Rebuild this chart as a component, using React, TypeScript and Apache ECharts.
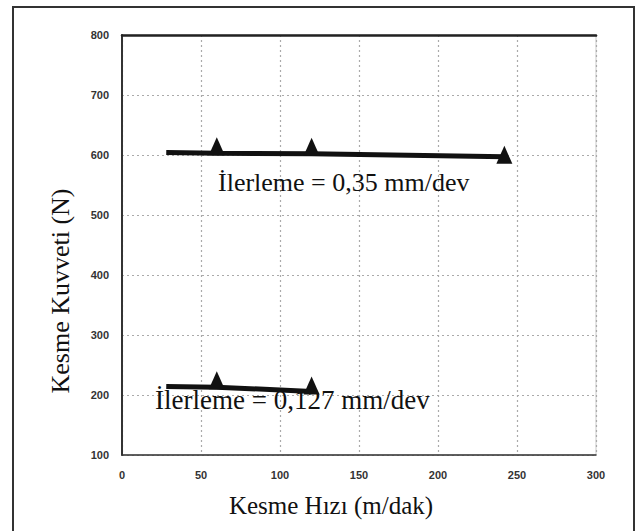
import React, { useEffect, useRef } from "react";
import * as echarts from "echarts";

const xTicks = [0, 50, 100, 150, 200, 250, 300];
const yTicks = [100, 200, 300, 400, 500, 600, 700, 800];

// İlerleme = 0,35 mm/dev
const feed035X = [28, 60, 120, 242];
const feed035Y = [604, 603, 602, 597];
// İlerleme = 0,127 mm/dev
const feed0127X = [28, 60, 120];
const feed0127Y = [214, 213, 206];

const label035 = "İlerleme = 0,35 mm/dev";
const label0127 = "İlerleme = 0,127 mm/dev";
const xTitle = "Kesme Hızı (m/dak)";
const yTitle = "Kesme Kuvveti (N)";

const SERIF = "'Liberation Serif', 'DejaVu Serif', serif";
const SANS = "'Liberation Sans', Arial, sans-serif";

function buildData(xs: number[], ys: number[], offsets: number[]) {
  return xs.map((x, i) => {
    if (i === 0) return { value: [x, ys[i]], symbol: "none" };
    return { value: [x, ys[i]], symbolOffset: [0, offsets[i]] };
  });
}

export default function App() {
  const ref = useRef<HTMLDivElement>(null);
  useEffect(() => {
    if (!ref.current) return;
    const chart = echarts.init(ref.current, null, { renderer: "svg" });
    const lineStyle = { color: "#111", width: 5 };
    chart.setOption({
      animation: false,
      backgroundColor: "#fff",
      grid: {
        left: 122,
        right: 40,
        top: 35,
        bottom: 76,
        show: true,
        borderColor: "#c8c8c8",
        borderWidth: 1,
      },
      xAxis: [
        {
          type: "value",
          min: 0,
          max: 300,
          interval: 50,
          axisLine: { show: true, lineStyle: { color: "#333", width: 1.5 } },
          axisTick: { show: false },
          axisLabel: {
            margin: 14,
            color: "#333",
            fontFamily: SANS,
            fontWeight: "bold",
            fontSize: 11,
            formatter: (v: number) => (xTicks.includes(v) ? String(v) : ""),
          },
          splitLine: {
            show: true,
            lineStyle: { color: "#aaa", type: [2, 3], width: 1.2 },
          },
        },
        {
          type: "value",
          position: "top",
          min: 0,
          max: 300,
          axisLine: { show: true, lineStyle: { color: "#222", width: 2.5 } },
          axisTick: { show: false },
          axisLabel: { show: false },
          splitLine: { show: false },
        },
      ],
      yAxis: {
        type: "value",
        min: 100,
        max: 800,
        interval: 100,
        axisLine: { show: true, lineStyle: { color: "#333", width: 2 } },
        axisTick: { show: false },
        axisLabel: {
          margin: 13,
          color: "#333",
          fontFamily: SANS,
          fontWeight: "bold",
          fontSize: 11,
          formatter: (v: number) => (yTicks.includes(v) ? String(v) : ""),
        },
        splitLine: {
          show: true,
          lineStyle: { color: "#aaa", type: [2, 3], width: 1.2 },
        },
      },
      series: [
        {
          type: "line",
          data: buildData(feed035X, feed035Y, [0, -7, -7, -2]),
          symbol: "triangle",
          symbolSize: [16, 18],
          showAllSymbol: true,
          lineStyle,
          itemStyle: { color: "#111" },
          z: 5,
        },
        {
          type: "line",
          data: buildData(feed0127X, feed0127Y, [0, -7, -6]),
          symbol: "triangle",
          symbolSize: [16, 18],
          showAllSymbol: true,
          lineStyle,
          itemStyle: { color: "#111" },
          z: 5,
        },
      ],
      graphic: [
        {
          type: "rect",
          shape: { x: 13, y: 7, width: 621, height: 540 },
          style: { fill: "none", stroke: "#333", lineWidth: 2 },
          silent: true,
        },
        {
          type: "text",
          x: 218,
          y: 182,
          style: {
            text: label035,
            font: `26px ${SERIF}`,
            fill: "#111",
            textAlign: "left",
            textVerticalAlign: "middle",
          },
          z: 10,
        },
        {
          type: "text",
          x: 155,
          y: 400,
          style: {
            text: label0127,
            font: `27px ${SERIF}`,
            fill: "#111",
            textAlign: "left",
            textVerticalAlign: "middle",
          },
          z: 10,
        },
        {
          type: "text",
          x: 331,
          y: 505,
          style: {
            text: xTitle,
            font: `25px ${SERIF}`,
            fill: "#111",
            textAlign: "center",
            textVerticalAlign: "middle",
          },
        },
        {
          type: "text",
          x: 60,
          y: 291,
          rotation: Math.PI / 2,
          style: {
            text: yTitle,
            font: `26px ${SERIF}`,
            fill: "#111",
            textAlign: "center",
            textVerticalAlign: "middle",
          },
        },
      ],
    });
    return () => chart.dispose();
  }, []);
  return (
    <div
      ref={ref}
      style={{ position: "absolute", left: 0, top: 0, width: 636, height: 531 }}
    />
  );
}
